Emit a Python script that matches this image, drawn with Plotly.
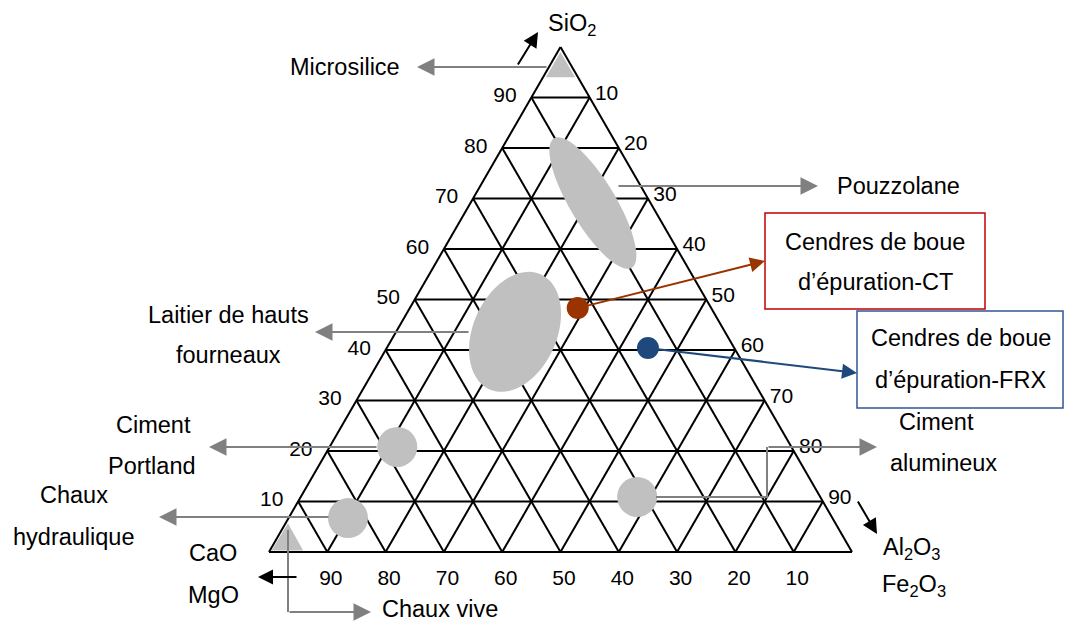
import numpy as np
import plotly.graph_objects as go

W, H = 1065, 623
FONT = "Liberation Sans, Arial, sans-serif"

# compositions in % : SiO2 / CaO+MgO / Al2O3+Fe2O3
circle_names = ["Ciment Portland", "Chaux hydraulique", "Ciment alumineux"]
circle_sio2 = [20.8, 6.7, 10.9]
circle_cao = [67.6, 83.1, 31.4]
circle_al = [11.6, 10.2, 57.7]

ash_names = ["Cendres de boue d’épuration-CT", "Cendres de boue d’épuration-FRX"]
ash_sio2 = [48.3, 40.4]
ash_cao = [22.9, 14.8]
ash_al = [28.8, 44.8]
ash_colors = ["#993300", "#1F497D"]

zone_names = ["Pouzzolane", "Laitier de hauts fourneaux"]
zone_sio2 = [69.1, 43.6]
zone_cao = [9.9, 36.0]
zone_al = [21.0, 20.4]

# corner zones (triangle vertices)
microsilice_sio2 = [99.0, 94.0, 94.0]
microsilice_cao = [0.5, 5.5, 0.5]
microsilice_al = [0.5, 0.5, 5.5]

chauxvive_sio2 = [5.7, 0.3, 0.3]
chauxvive_cao = [93.9, 99.4, 94.0]
chauxvive_al = [0.4, 0.3, 5.7]

ticks = list(range(10, 100, 10))

GRAY = "#C0C0C0"
ARROW_GRAY = "#808080"
TXT = 23.5

# ellipse shape for zones: semi axes (fraction of side) and tilt (deg)
zone_shape = [(0.1295, 0.039, -59), (0.108, 0.0717, 66)]


def ellipse(a0, b0, c0, rx, ry, tilt, n=90):
    t = np.linspace(0, 2 * np.pi, n)
    x0 = (c0 + a0 / 2) / 100
    y0 = a0 / 100 * np.sqrt(3) / 2
    ang = np.radians(tilt)
    x = x0 + rx * np.cos(t) * np.cos(ang) - ry * np.sin(t) * np.sin(ang)
    y = y0 + rx * np.cos(t) * np.sin(ang) + ry * np.sin(t) * np.cos(ang)
    a = y / (np.sqrt(3) / 2)
    c = x - a / 2
    b = 1 - a - c
    return a * 100, b * 100, c * 100


fig = go.Figure()

for name, a0, b0, c0, (rx, ry, tilt) in zip(zone_names, zone_sio2, zone_cao, zone_al, zone_shape):
    a, b, c = ellipse(a0, b0, c0, rx, ry, tilt)
    fig.add_trace(go.Scatterternary(a=a, b=b, c=c, mode="lines", fill="toself",
                                    fillcolor=GRAY, line=dict(width=0, color=GRAY),
                                    name=name, showlegend=False))

for name, a, b, c in [("Microsilice", microsilice_sio2, microsilice_cao, microsilice_al),
                      ("Chaux vive", chauxvive_sio2, chauxvive_cao, chauxvive_al)]:
    fig.add_trace(go.Scatterternary(a=a + a[:1], b=b + b[:1], c=c + c[:1], mode="lines",
                                    fill="toself", fillcolor=GRAY, line=dict(width=0, color=GRAY),
                                    name=name, showlegend=False))

fig.add_trace(go.Scatterternary(a=circle_sio2, b=circle_cao, c=circle_al, mode="markers",
                                marker=dict(size=40, color=GRAY, line=dict(width=0)),
                                text=circle_names, showlegend=False))

fig.add_trace(go.Scatterternary(a=ash_sio2, b=ash_cao, c=ash_al, mode="markers",
                                marker=dict(size=22, color=ash_colors, line=dict(width=0)),
                                text=ash_names, showlegend=False))


def axis(ticklen):
    return dict(tickmode="array", tickvals=ticks, ticktext=[str(t) for t in ticks],
                ticks="outside" if ticklen else "", ticklen=ticklen, tickcolor="rgba(0,0,0,0)",
                showgrid=True, gridcolor="black", gridwidth=2,
                linecolor="black", linewidth=2, layer="below traces", min=0,
                tickfont=dict(family=FONT, size=21, color="black"), title=dict(text=""))


def p(x, y):
    return x / W, 1 - y / H


annotations = []
shapes = []


def label(text, x, y, size=TXT, anchor="center"):
    px_, py_ = p(x, y)
    annotations.append(dict(x=px_, y=py_, xref="paper", yref="paper", text=text,
                            showarrow=False, font=dict(family=FONT, size=size, color="black"),
                            xanchor=anchor, yanchor="middle"))


def arrow(x0, y0, x1, y1, color, size=1.75, width=2):
    px_, py_ = p(x1, y1)
    annotations.append(dict(x=px_, y=py_, xref="paper", yref="paper", text="",
                            showarrow=True, ax=x0 - x1, ay=y0 - y1, axref="pixel", ayref="pixel",
                            arrowhead=2, arrowsize=size, arrowwidth=width, arrowcolor=color,
                            standoff=0, startstandoff=0))


def polyline(points, color, width=2):
    path = "M " + " L ".join(f"{x / W},{1 - y / H}" for x, y in points)
    shapes.append(dict(type="path", path=path, xref="paper", yref="paper",
                       line=dict(color=color, width=width)))


def box(x0, y0, x1, y1, color):
    shapes.append(dict(type="rect", xref="paper", yref="paper", x0=x0 / W, x1=x1 / W,
                       y0=1 - y1 / H, y1=1 - y0 / H, line=dict(color=color, width=1.5),
                       fillcolor="white"))


# axis titles
label("SiO<sub>2</sub>", 572, 24)
label("CaO", 213, 553)
label("MgO", 213, 595)
label("Al<sub>2</sub>O<sub>3</sub>", 912, 548)
label("Fe<sub>2</sub>O<sub>3</sub>", 914, 585)
arrow(517, 66, 538, 32, "black", size=1.5)
arrow(298, 577, 258, 577, "black", size=1.5)
arrow(857, 500, 877, 534, "black", size=1.5)

# zone labels
label("Microsilice", 345, 67)
arrow(548, 67, 417, 67, ARROW_GRAY)
label("Pouzzolane", 898, 186)
arrow(617, 186, 818, 186, ARROW_GRAY)
label("Laitier de hauts", 228, 315)
label("fourneaux", 228, 355)
arrow(470, 332, 315, 332, ARROW_GRAY)
label("Ciment", 153, 425)
label("Portland", 152, 466)
arrow(378, 447, 209, 447, ARROW_GRAY)
label("Chaux", 74, 495)
label("hydraulique", 74, 537)
arrow(330, 517, 159, 517, ARROW_GRAY)
label("Ciment", 936, 422)
label("alumineux", 943, 463)
polyline([(656, 497), (767, 497), (767, 447)], ARROW_GRAY)
arrow(767, 447, 877, 447, ARROW_GRAY)
label("Chaux vive", 380, 609, anchor="left")
polyline([(288, 530), (288, 612)], ARROW_GRAY)
arrow(288, 612, 371, 612, ARROW_GRAY)

# sludge ash boxes
box(765, 213, 985, 309, "#C00000")
label("Cendres de boue", 875, 242)
label("d’épuration-CT", 875, 282)
arrow(578, 308, 765, 261, ash_colors[0], size=1.5)
box(857, 311, 1063, 408, "#2F5597")
label("Cendres de boue", 961, 338)
label("d’épuration-FRX", 961, 380)
arrow(648, 348, 857, 373, ash_colors[1], size=1.5)

fig.update_layout(
    width=W, height=H,
    margin=dict(l=0, r=0, t=0, b=0),
    paper_bgcolor="white",
    showlegend=False,
    ternary=dict(sum=100, bgcolor="white",
                 domain=dict(x=[269 / W, 852 / W], y=[1 - 552 / H, 1 - 47 / H]),
                 aaxis=axis(11), baxis=axis(7), caxis=axis(3)),
    annotations=annotations,
    shapes=shapes,
    font=dict(family=FONT),
)

fig.write_html("out.html", config={"displayModeBar": False},
               post_script="document.body.style.margin = '0';")
